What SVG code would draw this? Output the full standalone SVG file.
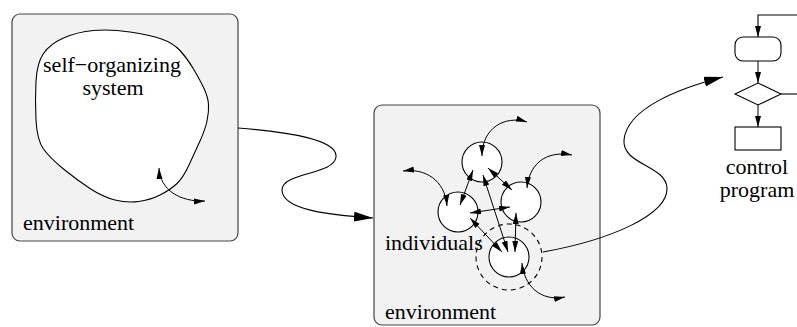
<svg xmlns="http://www.w3.org/2000/svg" width="797" height="327" viewBox="0 0 797 327">
<style>
.box{fill:#f2f2f2;stroke:#444;stroke-width:1.2}
.ln{fill:none;stroke:#000;stroke-width:1.1}
.wh{fill:#fff;stroke:#000;stroke-width:1.1}
.big{fill:none;stroke:#000;stroke-width:1.1;marker-end:url(#ab)}
.sa{fill:none;stroke:#000;stroke-width:1;marker-start:url(#as);marker-end:url(#as)}
.se{fill:none;stroke:#000;stroke-width:1;marker-end:url(#as)}
</style>
<defs>
<marker id="ab" markerUnits="userSpaceOnUse" markerWidth="20" markerHeight="12" refX="19" refY="5" orient="auto-start-reverse"><path d="M0,0 L19,5 L0,10 Z" fill="#000"/></marker>
<marker id="as" markerUnits="userSpaceOnUse" markerWidth="12" markerHeight="8" refX="11" refY="3" orient="auto-start-reverse"><path d="M0,0 L11,3 L0,6 Z" fill="#000"/></marker>
</defs>
<g id="box1">
<rect class="box" x="12" y="14" width="226" height="227" rx="8"/>
<path class="wh" d="M43.5,53.5 Q50,44 63.5,38 Q77,32 93.5,30.5 Q110,29 130,32 Q150,35 161.5,39 Q173,43 180,50.5 Q187,58 193.5,69 Q200,80 204,88.5 Q208,97 208.5,104.5 Q209,112 207,121 Q205,130 200,141 Q195,152 189,165 Q183,178 176.5,184 Q170,190 160,195 Q150,200 138.5,201.5 Q127,203 115,200 Q103,197 90,188.5 Q77,180 63.5,169 Q50,158 43.5,149 Q37,140 36,120 Q35,100 36,81.5 Q37,63 43.5,53.5 Z"/>
<text x="112" y="72" text-anchor="middle" style="font-family:'Liberation Serif',serif;font-size:22px">self−organizing</text>
<text x="113" y="95" text-anchor="middle" style="font-family:'Liberation Serif',serif;font-size:22px">system</text>
<path class="sa" d="M159,168 C160,190 180,202 205,201"/>
<text x="23" y="230" style="font-family:'Liberation Serif',serif;font-size:22px">environment</text>
</g>
<g id="box2">
<rect class="box" x="374" y="105" width="226" height="220" rx="8"/>
<circle class="ln" cx="509" cy="257" r="33" stroke-dasharray="5,4"/>
<circle class="wh" cx="482" cy="162" r="20"/>
<circle class="wh" cx="458" cy="212" r="20"/>
<circle class="wh" cx="521" cy="202" r="20"/>
<circle class="wh" cx="509" cy="257" r="20"/>
<text x="385" y="250" style="font-family:'Liberation Serif',serif;font-size:22px">individuals</text>
<text x="385" y="319" style="font-family:'Liberation Serif',serif;font-size:22px">environment</text>
<path class="sa" d="M482,156 C482,128 505,115 527,122"/>
<path class="sa" d="M527,188 C529,165 545,150 572,155"/>
<path class="sa" d="M447,206 C445,180 425,168 403,171"/>
<path class="sa" d="M522,263 C524,285 540,302 565,297"/>
<path class="sa" d="M473,170 L460,205"/>
<path class="sa" d="M488,168 L512,190"/>
<path class="sa" d="M483,175 L508,252"/>
<path class="sa" d="M470,213 L510,207"/>
<path class="sa" d="M470,218 L502,252"/>
<path class="sa" d="M516,213 L515,252"/>
</g>
<g id="control">
<rect class="wh" x="735" y="37" width="46" height="24" rx="8"/>
<path class="wh" d="M735,94 L758,83 L781,94 L758,105 Z"/>
<rect class="wh" x="735" y="127" width="46" height="23"/>
<path class="ln" d="M797,15 L758,15 L758,37" style="marker-end:url(#as)"/>
<path class="se" d="M758,61 L758,83"/>
<path class="ln" d="M781,94 L797,94"/>
<path class="se" d="M758,105 L758,127"/>
<text x="757" y="174" text-anchor="middle" style="font-family:'Liberation Serif',serif;font-size:22px">control</text>
<text x="757" y="197" text-anchor="middle" style="font-family:'Liberation Serif',serif;font-size:22px">program</text>
</g>
<g id="connectors">
<path class="big" d="M238,128 C290,132 338,140 336,157 C334,175 282,172 282,190 C282,210 330,215 373,218"/>
<path class="big" d="M543,252 C610,240 668,215 667,188 C666,165 622,165 624,140 C627,108 680,88 723,77"/>
</g>
</svg>
